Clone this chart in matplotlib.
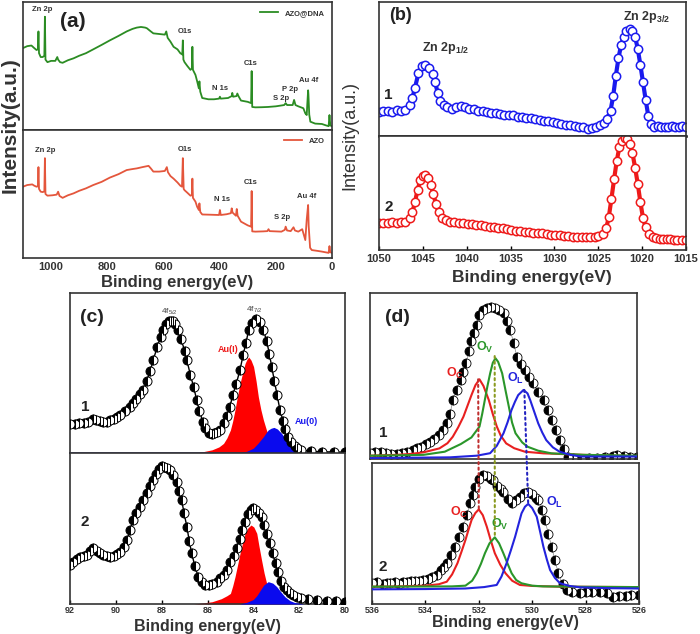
import numpy as np
import matplotlib.pyplot as plt
from matplotlib.patches import ConnectionPatch

plt.rcParams['font.family'] = ['Liberation Sans', 'DejaVu Sans']
plt.rcParams['mathtext.fontset'] = 'custom'
plt.rcParams['mathtext.rm'] = 'Liberation Sans'
plt.rcParams['mathtext.bf'] = 'Liberation Sans:bold'

# ---- (a) survey spectra: (binding energy eV, intensity a.u.) ----
survey_dna = [(1100, 64), (1085, 65.5), (1070, 66), (1060, 64), (1052, 62.5), (1047, 63), (1045, 77),
              (1043, 60), (1037, 57), (1030, 57), (1024, 58), (1022, 88.5), (1020, 55), (1013, 53),
              (1000, 54), (985, 54), (978, 57), (975, 55), (968, 53), (959, 52.5), (940, 54.5), (920, 56),
              (900, 58), (876, 60), (850, 63), (820, 66.5), (791, 70), (760, 73.5), (731, 77), (710, 79),
              (695, 80), (680, 80.5), (665, 80), (659, 79.5), (645, 77), (636, 75.5), (615, 75), (595, 74.5),
              (590, 77), (585, 72), (575, 69), (564, 65), (550, 63), (540, 60), (533, 59), (531, 70),
              (529, 55), (525, 53), (515, 50), (504, 47), (499, 48), (497, 65), (495, 47), (486, 43),
              (480, 38), (474, 32.5), (472, 38), (469, 30), (462, 25), (440, 24), (420, 24), (402, 24.5),
              (399, 26), (396, 24.5), (370, 25), (357, 26.5), (355, 29), (352, 26), (340, 26.5), (337, 28.5),
              (333, 26.5), (324, 23), (300, 22), (288, 21), (286, 46), (284, 18), (273, 17.7), (250, 17.8),
              (228, 18), (200, 18.5), (170, 19.5), (165, 21), (160, 19.5), (140, 19.5), (135, 23.5),
              (130, 19.5), (120, 18.5), (102, 17), (95, 13), (90, 11.7), (88, 20), (85, 31), (84, 28),
              (81, 12), (77, 6.5), (60, 5), (36, 4.7), (20, 3.5), (12, 3), (9, 11.7), (6, 3.5), (0, 3)]

survey_azo = [(1100, 55.7), (1085, 57), (1067, 57.5), (1060, 56.5), (1052, 55.7), (1047, 56), (1045, 71),
              (1043, 54), (1037, 51.8), (1030, 51.5), (1024, 52), (1022, 78), (1020, 50), (1013, 48.7),
              (995, 49), (980, 49.5), (975, 51.8), (970, 48.5), (959, 47), (940, 49), (920, 50.5),
              (900, 52.5), (876, 54.4), (850, 57), (820, 59.5), (791, 62.8), (760, 65.5), (731, 68.7),
              (710, 69.5), (695, 70), (675, 71), (653, 72), (645, 70), (636, 67.5), (615, 67.5), (595, 68),
              (588, 71), (584, 67), (575, 64), (564, 62), (550, 59), (540, 56.5), (534, 55.7), (531, 78),
              (528, 54), (525, 53), (515, 51), (504, 48.7), (499, 49), (497, 62), (495, 47), (486, 44),
              (480, 40), (474, 37.5), (472, 42.7), (469, 36), (462, 34), (430, 33.8), (402, 33.6),
              (399, 37.5), (396, 33.6), (375, 34.2), (360, 35), (357, 38.8), (354, 35.5), (342, 33),
              (339, 38.3), (336, 33), (324, 28.4), (300, 25.5), (288, 24.5), (286, 52.3), (284, 20.8),
              (273, 20.6), (245, 20.8), (230, 21), (226, 22.5), (222, 21), (180, 20.6), (168, 22),
              (165, 24.5), (160, 21.5), (147, 21), (137, 24), (132, 21.5), (120, 20.6), (106, 22.5),
              (95, 14), (90, 30), (85, 41.4), (83, 25), (78, 8), (72, 6.2), (50, 5.5), (36, 5), (12, 4),
              (9, 9.3), (6, 4.5), (0, 4)]

# ---- (b) Zn 2p ----
zn_1 = [(1050, 18), (1049.5, 19), (1049, 18.5), (1048.5, 18), (1048, 19.5), (1047.5, 19), (1047, 19.5),
        (1046.5, 23), (1046.2, 28), (1045.9, 36), (1045.5, 47), (1045.1, 52), (1044.7, 53), (1044.3, 51),
        (1043.9, 46), (1043.6, 40), (1043.3, 32), (1043.0, 26), (1042.6, 23), (1042.2, 21.5), (1041.7, 20.5),
        (1041.2, 21.5), (1040.7, 22.5), (1040.2, 21.5), (1039.7, 20.5), (1039.2, 20), (1038.7, 19),
        (1038.2, 18.5), (1037.7, 18), (1037.2, 17.5), (1036.7, 17), (1036.2, 16.5), (1035.7, 16),
        (1035.2, 15.5), (1034.7, 15.5), (1034.2, 14.5), (1033.7, 14), (1033.2, 13.5), (1032.7, 13.5),
        (1032.2, 12.5), (1031.7, 12), (1031.2, 11.5), (1030.7, 11), (1030.2, 10.5), (1029.7, 10),
        (1029.2, 9), (1028.7, 8.5), (1028.2, 8), (1027.7, 7.5), (1027.2, 7), (1026.7, 6.5), (1026.2, 5.5),
        (1025.7, 6), (1025.3, 6.5), (1024.8, 8), (1024.4, 10), (1024.0, 13), (1023.6, 19), (1023.3, 30),
        (1023.0, 45), (1022.7, 58), (1022.4, 68), (1022.1, 74), (1021.8, 78), (1021.4, 79.6), (1021.1, 78),
        (1020.8, 74), (1020.5, 65), (1020.2, 53), (1019.9, 40), (1019.6, 27), (1019.3, 15), (1019.0, 9),
        (1018.6, 7), (1018.2, 7.5), (1017.8, 6.5), (1017.4, 7), (1017.0, 6.5), (1016.6, 7.5), (1016.2, 6.5),
        (1015.8, 7), (1015.4, 7.5), (1015.0, 7)]

zn_2 = [(1050, 23.4), (1049.5, 24), (1049, 23.5), (1048.5, 24.5), (1048, 24), (1047.5, 24.5), (1047, 25),
        (1046.5, 28), (1046.2, 33), (1045.9, 42), (1045.6, 53), (1045.3, 61), (1045.0, 65), (1044.7, 65.8),
        (1044.4, 63), (1044.1, 57), (1043.8, 49), (1043.5, 40), (1043.2, 33), (1042.8, 28), (1042.4, 26),
        (1041.9, 25), (1041.4, 24.5), (1040.9, 24), (1040.4, 23.5), (1039.9, 23), (1039.4, 22.5),
        (1038.9, 22), (1038.4, 21.5), (1037.9, 21), (1037.4, 20.5), (1036.9, 20), (1036.4, 19.5),
        (1035.9, 19), (1035.4, 18.5), (1034.9, 17.5), (1034.4, 17), (1033.9, 16.5), (1033.4, 16),
        (1032.9, 15.5), (1032.4, 15), (1031.9, 14.5), (1031.4, 14.5), (1030.9, 14), (1030.4, 13.5),
        (1029.9, 13), (1029.4, 13), (1028.9, 12.5), (1028.4, 12), (1027.9, 11.5), (1027.4, 11.5),
        (1026.9, 11), (1026.4, 11), (1025.9, 11), (1025.4, 11.5), (1025.0, 12), (1024.5, 14), (1024.1, 19),
        (1023.8, 29), (1023.5, 45), (1023.2, 62), (1022.9, 78), (1022.6, 90), (1022.3, 96), (1022.0, 98),
        (1021.7, 97), (1021.4, 93), (1021.1, 85), (1020.8, 72), (1020.5, 58), (1020.2, 42), (1019.9, 28),
        (1019.6, 20), (1019.2, 14), (1018.8, 11.5), (1018.4, 10.5), (1018.0, 10), (1017.6, 10),
        (1017.2, 9.5), (1016.8, 9.5), (1016.4, 9), (1016.0, 9), (1015.5, 9), (1015.0, 8.8)]

# ---- (c) Au 4f ----
au_1 = [(92.0, 18), (91.8, 18.3), (91.6, 18.5), (91.4, 18.6), (91.2, 19.5), (91.0, 21), (90.85, 20.5),
        (90.7, 19.8), (90.55, 19.4), (90.4, 19.6), (90.25, 20.5), (90.1, 21.5), (89.96, 22.3), (89.8, 24),
        (89.6, 26.5), (89.4, 29), (89.24, 31), (89.1, 34), (88.95, 37), (88.8, 39.4), (88.65, 45), (88.5, 51),
        (88.37, 58), (88.2, 66), (88.05, 72.5), (87.93, 77), (87.8, 80.5), (87.7, 82.3), (87.6, 82.7),
        (87.5, 82.3), (87.4, 80.5), (87.27, 77), (87.15, 71), (87.0, 64), (86.9, 58), (86.75, 49), (86.6, 41),
        (86.47, 33), (86.35, 26), (86.2, 19.5), (86.1, 15.4), (85.95, 12.8), (85.82, 11.7), (85.7, 12.2),
        (85.58, 13), (85.46, 14.4), (85.3, 18.5), (85.15, 23), (85.02, 29), (84.9, 36), (84.75, 43),
        (84.58, 52), (84.45, 61), (84.32, 69), (84.2, 77), (84.05, 81.5), (83.88, 84), (83.72, 82),
        (83.56, 77), (83.42, 70), (83.3, 62), (83.2, 54), (83.08, 45), (82.96, 36), (82.84, 27), (82.7, 20),
        (82.6, 15), (82.47, 10.2), (82.35, 7), (82.2, 4.5), (82.1, 3), (81.9, 2), (81.5, 1), (81.0, 0.8),
        (80.5, 0.6), (80.0, 0.5)]
au_1_au1 = [(86.6, 0), (86.2, 0.8), (85.8, 2), (85.5, 3.8), (85.3, 6), (85.15, 9.5), (85.0, 14.4), (84.9, 20),
            (84.8, 27), (84.7, 35), (84.58, 43.5), (84.47, 50), (84.36, 56), (84.28, 58.5), (84.2, 60),
            (84.1, 58), (83.99, 54), (83.88, 45), (83.78, 35), (83.67, 27), (83.56, 20.6), (83.42, 14),
            (83.27, 9), (83.12, 5.5), (82.98, 3), (82.8, 1.5), (82.5, 0.5), (82.0, 0)]
au_1_au0 = [(84.6, 0), (84.3, 1), (84.0, 3), (83.8, 6), (83.56, 10.2), (83.45, 12.5), (83.35, 14.4),
            (83.22, 15.5), (83.1, 16), (82.95, 15), (82.77, 12.3), (82.6, 9), (82.4, 6), (82.25, 3.8),
            (82.1, 2), (81.8, 0.7), (81.5, 0)]

au_2 = [(92.0, 25.8), (91.85, 28), (91.7, 30), (91.55, 31), (91.4, 32), (91.27, 32.5), (91.12, 35),
        (90.98, 37), (90.84, 35), (90.69, 33.6), (90.55, 32.5), (90.4, 31.5), (90.25, 31.3), (90.1, 32),
        (89.95, 33), (89.8, 34.6), (89.65, 38), (89.5, 42.4), (89.37, 49), (89.24, 55.6), (89.1, 60),
        (88.95, 64.4), (88.8, 69), (88.65, 73.3), (88.5, 78), (88.37, 82), (88.25, 86), (88.12, 89.5),
        (88.0, 91.6), (87.88, 91), (87.76, 90), (87.64, 88.7), (87.5, 85.5), (87.35, 81), (87.24, 75),
        (87.13, 68.9), (87.02, 60), (86.9, 51.2), (86.8, 42), (86.69, 33.6), (86.55, 25), (86.4, 18),
        (86.25, 14.5), (86.1, 12.8), (85.95, 12.6), (85.8, 13.2), (85.6, 14.8), (85.45, 17), (85.3, 19.5),
        (85.16, 22.5), (85.0, 27.5), (84.86, 32), (84.73, 36.9), (84.6, 43), (84.48, 49), (84.36, 54.5),
        (84.22, 59.5), (84.1, 62.5), (84.0, 63.4), (83.88, 62.5), (83.76, 60.5), (83.64, 57.8), (83.52, 52),
        (83.4, 46.5), (83.27, 40.2), (83.15, 33.5), (83.03, 27), (82.91, 21.4), (82.78, 15), (82.65, 11.5),
        (82.55, 9.3), (82.4, 7), (82.25, 5.8), (82.1, 4.8), (81.9, 4.2), (81.6, 3.5), (81.2, 2.6), (80.8, 2.2),
        (80.4, 1.7), (80.0, 1.3)]
au_2_au1 = [(86.6, 0), (86.2, 0.7), (85.8, 1.5), (85.4, 3.5), (85.15, 5.5), (85.0, 7), (84.9, 12), (84.8, 18),
            (84.7, 25), (84.58, 33.6), (84.47, 40.5), (84.36, 46.8), (84.23, 50.5), (84.1, 52.3), (83.98, 51),
            (83.85, 46.8), (83.75, 38), (83.64, 29), (83.53, 20.5), (83.42, 13.7), (83.28, 8), (83.13, 3.8),
            (82.9, 1.5), (82.5, 0.3), (82.2, 0)]
au_2_au0 = [(84.6, 0), (84.3, 1), (84.0, 3), (83.85, 5.5), (83.7, 9), (83.55, 12.5), (83.35, 14.8),
            (83.15, 13.8), (82.98, 11.5), (82.8, 8), (82.62, 4.8), (82.4, 2.2), (82.2, 1), (81.8, 0)]

# ---- (d) O 1s ----
o_1 = [(536.0, 3.4), (535.8, 4), (535.6, 4.4), (535.4, 3.8), (535.2, 3.2), (535.0, 3), (534.8, 3.5),
       (534.6, 4.2), (534.4, 5.2), (534.25, 6.4), (534.1, 7.5), (533.9, 9), (533.75, 10.4), (533.6, 12),
       (533.4, 14.5), (533.25, 17.5), (533.1, 21.5), (533.0, 27), (532.9, 35.5), (532.75, 41.5), (532.6, 47.6),
       (532.5, 52.5), (532.4, 57.6), (532.3, 65), (532.2, 71), (532.1, 75.7), (532.0, 81), (531.9, 86.7),
       (531.75, 89.5), (531.6, 91), (531.45, 91.7), (531.3, 91.2), (531.15, 90), (531.0, 87.8), (530.88, 83),
       (530.75, 77.7), (530.62, 70), (530.5, 61.6), (530.35, 57), (530.2, 53.6), (530.05, 49.5), (529.9, 45.6),
       (529.7, 40.5), (529.5, 35.5), (529.35, 29.5), (529.2, 23.5), (529.05, 17.5), (528.9, 11.4), (528.75, 6),
       (528.6, 1.4), (528.4, 0.5), (528.1, 0), (527.8, 0.4), (527.5, 0.8), (527.2, 1.2), (526.9, 1.6),
       (526.75, 2.5), (526.5, 1.6), (526.25, 1.5), (526.0, 1.5)]
o_1_oc = [(536, 2), (535, 2.5), (534.5, 3), (534, 4), (533.4, 6.4), (533.1, 9.5), (532.9, 13.4), (532.7, 19),
          (532.5, 25.5), (532.35, 32), (532.2, 38.5), (532.05, 44.5), (531.9, 48), (531.75, 44), (531.55, 35.5),
          (531.4, 27), (531.25, 19.5), (531.1, 14), (530.9, 9.4), (530.6, 6.5), (530.2, 4.4), (529.5, 3.4),
          (528, 2.5), (527, 2), (526, 1.8)]
o_1_ov = [(536, 2), (535, 2.2), (534, 2.5), (533.2, 4.4), (532.6, 9), (532.2, 13), (531.9, 19.5), (531.8, 27),
          (531.7, 35.5), (531.6, 44), (531.5, 51.6), (531.4, 58), (531.3, 60.7), (531.2, 58.5), (531.05, 51.6),
          (530.92, 41), (530.8, 31.5), (530.68, 22), (530.55, 15.5), (530.3, 10), (530.1, 7.4), (529.7, 5),
          (529.2, 3.4), (528, 2.5), (526, 2)]
o_1_ol = [(536, 0.5), (535, 0.7), (533, 1), (532, 2), (531.5, 3.5), (531.25, 8), (531.0, 15.5), (530.85, 22),
          (530.7, 29.5), (530.57, 34.5), (530.45, 38.5), (530.25, 41.6), (530.1, 39.5), (530.0, 35.5),
          (529.85, 28.5), (529.7, 21.5), (529.55, 16), (529.4, 11.4), (529.15, 7), (528.9, 4.4), (528.5, 2.5),
          (528.1, 1.5), (527, 1.5), (526, 1.5)]

o_2 = [(536.0, 14.7), (535.8, 15.5), (535.6, 14.5), (535.45, 15), (535.33, 14.7), (535.15, 15.8), (535.0, 14.5),
       (534.85, 15.5), (534.7, 15.8), (534.55, 16), (534.4, 16.5), (534.25, 16.2), (534.08, 17), (533.9, 18),
       (533.75, 19), (533.58, 20.6), (533.4, 24), (533.3, 26), (533.2, 28.9), (533.05, 34.5), (532.9, 40.7),
       (532.75, 47.5), (532.58, 54.8), (532.45, 63), (532.33, 71.4), (532.23, 77.5), (532.14, 83.2),
       (532.0, 88.5), (531.83, 91.5), (531.68, 90.5), (531.55, 89), (531.46, 87.9), (531.3, 84), (531.18, 81.5),
       (531.08, 79.6), (530.92, 74.5), (530.77, 71.4), (530.62, 73.5), (530.46, 76), (530.3, 78.5),
       (530.15, 79.6), (530.0, 78), (529.87, 75.5), (529.77, 73.8), (529.65, 67), (529.52, 59.6), (529.4, 50),
       (529.27, 40.6), (529.15, 31), (529.02, 21.8), (528.86, 14), (528.7, 9.9), (528.5, 8.5), (528.2, 7.6),
       (528.0, 8.2), (527.75, 8.5), (527.46, 8.7), (527.2, 7.5), (526.96, 5.2), (526.75, 5.5), (526.5, 6),
       (526.3, 6.4), (526.0, 6.4)]
o_2_oc = [(536, 12.3), (535, 12.5), (534, 13), (533.5, 14), (533.2, 15.8), (533.0, 21), (532.8, 28.9),
          (532.65, 37), (532.5, 45.4), (532.38, 53), (532.27, 59.6), (532.13, 64.5), (532.0, 67.1), (531.85, 63),
          (531.7, 54.8), (531.55, 45), (531.4, 36), (531.2, 28), (531.0, 21.8), (530.75, 16.5), (530.46, 13.5),
          (530, 12.8), (529, 12.3), (528, 12.2), (526, 12)]
o_2_ov = [(536, 12.3), (534, 12.4), (533, 12.5), (532.5, 13), (532.25, 16.5), (532.08, 21.8), (531.92, 28.5),
          (531.77, 36), (531.6, 43), (531.4, 47.3), (531.24, 43), (531.08, 36), (530.92, 28.5), (530.77, 21.8),
          (530.6, 17), (530.4, 14.7), (530.0, 13), (529.6, 12.5), (528, 12.2), (526, 12)]
o_2_ol = [(536, 10.4), (534, 10.6), (532.5, 11), (531.8, 12), (531.33, 13.5), (531.15, 19.5), (530.96, 28.9),
          (530.8, 38), (530.64, 47.7), (530.52, 56), (530.4, 64.3), (530.27, 69), (530.15, 71), (530.0, 68),
          (529.83, 61.9), (529.7, 51), (529.58, 40.6), (529.45, 31.5), (529.33, 24.1), (529.15, 18.5),
          (528.96, 14.7), (528.6, 12.8), (528.2, 11.8), (527, 11.2), (526, 11)]

survey_ticks = [1000, 800, 600, 400, 200, 0]
zn_ticks = [1050, 1045, 1040, 1035, 1030, 1025, 1020, 1015]
au_ticks = [92, 90, 88, 86, 84, 82, 80]
o_ticks = [536, 534, 532, 530, 528, 526]


def xy(pts):
    a = np.array(pts, dtype=float)
    return a[:, 0], a[:, 1]


W, H = 700, 634
fig = plt.figure(figsize=(7, 6.34), dpi=100)


def box(x0, y0, x1, y1):
    # axes placed by pixel corners (top-left origin)
    return fig.add_axes([x0 / W, 1 - y1 / H, (x1 - x0) / W, (y1 - y0) / H])


def ptext(x, y, s, **kw):
    fig.text(x / W, 1 - y / H, s, **kw)


def style(ax, xlim, ticks=None, size=7.5, pad=3):
    ax.set_xlim(xlim)
    ax.set_ylim(0, 100)
    ax.set_yticks([])
    for sp in ax.spines.values():
        sp.set_linewidth(1.2)
        sp.set_color('#333333')
    if ticks is None:
        ax.set_xticks([])
    else:
        ax.set_xticks(ticks)
        ax.tick_params(axis='x', direction='in', length=3, width=1, labelsize=size, pad=pad)
        for lb in ax.get_xticklabels():
            lb.set_fontweight('bold')
            lb.set_color('#333333')


# ================= (a) =================
green = '#2b8c23'
orange = '#e4563c'
a1 = box(23, 2, 332, 130)
a2 = box(23, 130, 332, 258)
x, y = xy(survey_dna)
a1.plot(x, y, color=green, lw=1.3, label='AZO@DNA')
x, y = xy(survey_azo)
a2.plot(x, y, color=orange, lw=1.3, label='AZO')
style(a1, (1100, 0))
style(a2, (1100, 0), survey_ticks, 8)
a2.tick_params(axis='x', length=0)
for ax in (a1, a2):
    ax.legend(loc='upper right', frameon=False, prop={'size': 5.5, 'weight': 'bold'},
              handlelength=2.4, borderaxespad=0.6, labelcolor='#333333')

lab = dict(fontsize=5.5, fontweight='bold', color='#333333', ha='center', va='center')
a1.text(1032, 93.8, 'Zn 2p', **lab)
a1.text(525, 76.6, 'O1s', **lab)
a1.text(290, 52.3, 'C1s', **lab)
a1.text(399, 32.8, 'N 1s', **lab)
a1.text(180, 25, 'S 2p', **lab)
a1.text(148, 32, 'P 2p', **lab)
a1.text(82, 39, 'Au 4f', **lab)
a2.text(1022, 83.6, 'Zn 2p', **lab)
a2.text(523, 84.4, 'O1s', **lab)
a2.text(290, 58.6, 'C1s', **lab)
a2.text(390, 46, 'N 1s', **lab)
a2.text(176, 31.3, 'S 2p', **lab)
a2.text(89, 47.7, 'Au 4f', **lab)
a1.text(967, 84.4, '(a)', fontsize=15, fontweight='bold', color='#222222', va='center')
ptext(10, 125, 'Intensity(a.u.)', fontsize=15, fontweight='bold', rotation=90,
      ha='center', va='center', color='#333333')
ptext(177, 283, 'Binding energy(eV)', fontsize=12, fontweight='bold', ha='center', va='center', color='#333333')

# ================= (b) =================
blue = '#1a1aee'
red = '#ee1a1a'
b1 = box(379, 2, 686, 136)
b2 = box(379, 136, 686, 250)
x, y = xy(zn_1)
b1.plot(x, y, color=blue, lw=3, marker='o', ms=6, mfc='white', mec=blue, mew=1.1)
x, y = xy(zn_2)
b2.plot(x, y, color=red, lw=3, marker='o', ms=6, mfc='white', mec=red, mew=1.1)
style(b1, (1050, 1015))
style(b2, (1050, 1015), zn_ticks, 8)
b1.spines['bottom'].set_linewidth(1.8)
b1.spines['bottom'].set_color('black')
b1.text(1048.8, 90, '(b)', fontsize=13, fontweight='bold', color='#222222', va='center')
b1.text(1042.4, 66, r'Zn 2p$_\mathbf{1/2}$', fontsize=9, fontweight='bold', ha='center', va='center',
        color='#333333')
b1.text(1019.5, 89, r'Zn 2p$_\mathbf{3/2}$', fontsize=9, fontweight='bold', ha='center', va='center',
        color='#333333')
b1.text(1049, 30.6, '1', fontsize=11, fontweight='bold', ha='center', va='center', color='#222222')
b2.text(1048.9, 37.7, '2', fontsize=11, fontweight='bold', ha='center', va='center', color='#222222')
ptext(350, 135, 'Intensity(a.u.)', fontsize=13, rotation=90, ha='center', va='center', color='#333333')
ptext(532, 278, 'Binding energy(eV)', fontsize=12.5, fontweight='bold', ha='center', va='center', color='#333333')

# ================= (c) =================
c1 = box(70, 293, 345, 453)
c2 = box(70, 453, 345, 604)
mk = dict(color='black', lw=1, marker='o', ms=6.5, fillstyle='left', mfc='black', mfcalt='white',
          mec='black', mew=0.7)
for ax, exp, f1, f0 in ((c1, au_1, au_1_au1, au_1_au0), (c2, au_2, au_2_au1, au_2_au0)):
    x, y = xy(f1)
    ax.fill_between(x, 0, y, color='#ff0000', lw=0, zorder=2)
    x, y = xy(f0)
    ax.fill_between(x, 0, y, color='#0a0aee', lw=0, zorder=3)
    x, y = xy(exp)
    ax.plot(x, y, zorder=4, **mk)
style(c1, (92, 80))
style(c2, (92, 80), au_ticks, 6.5, pad=1.5)
c1.spines['bottom'].set_color('#3a3a8a')
c1.text(91.56, 84.4, '(c)', fontsize=14, fontweight='bold', color='#222222', va='center')
c1.text(87.64, 88, r'4f$_\mathregular{5/2}$', fontsize=6, color='#444444', ha='center', va='center')
c1.text(83.93, 89.4, r'4f$_\mathregular{7/2}$', fontsize=6, color='#444444', ha='center', va='center')
c1.text(85.1, 64.4, 'Au(I)', fontsize=6.5, fontweight='bold', color='#ee1a1a', ha='center', va='center')
c1.text(81.7, 19.4, 'Au(0)', fontsize=6.5, fontweight='bold', color='#1a1aee', ha='center', va='center')
c1.text(91.35, 28.8, '1', fontsize=11, fontweight='bold', ha='center', va='center', color='#222222')
c2.text(91.35, 54.3, '2', fontsize=11, fontweight='bold', ha='center', va='center', color='#222222')
ptext(207, 626, 'Binding energy(eV)', fontsize=11.5, fontweight='bold', ha='center', va='center', color='#333333')

# ================= (d) =================
d1 = box(370, 293, 637, 459)
d2 = box(372, 463, 639, 604)
cr, cg, cb = '#e82020', '#2a962a', '#2323dd'
mk_d = dict(color='#888888', lw=0.5, marker='o', ms=6.5, fillstyle='left', mfc='black', mfcalt='white',
            mec='black', mew=0.6)
for ax, exp, oc, ov, ol in ((d1, o_1, o_1_oc, o_1_ov, o_1_ol), (d2, o_2, o_2_oc, o_2_ov, o_2_ol)):
    x, y = xy(exp)
    ax.plot(x, y, zorder=2, **mk_d)
    for pts, c in ((oc, cr), (ov, cg), (ol, cb)):
        x, y = xy(pts)
        ax.plot(x, y, color=c, lw=1.5, zorder=3)
style(d1, (536, 526))
style(d2, (536, 526), o_ticks, 6.5, pad=1.5)

ot = dict(fontsize=9, fontweight='bold', ha='center', va='center')
d1.text(535.44, 85.5, '(d)', fontsize=14, fontweight='bold', color='#222222', va='center')
d1.text(535.5, 15.7, '1', fontsize=11, fontweight='bold', ha='center', va='center', color='#222222')
d2.text(535.6, 26.2, '2', fontsize=11, fontweight='bold', ha='center', va='center', color='#222222')
d1.text(532.8, 51.8, r'O$_\mathbf{C}$', color=cr, **ot)
d1.text(531.7, 66.9, r'O$_\mathbf{V}$', color=cg, **ot)
d1.text(530.55, 48.8, r'O$_\mathbf{L}$', color=cb, **ot)
d2.text(532.75, 65.2, r'O$_\mathbf{C}$', color=cr, **ot)
d2.text(531.2, 56.7, r'O$_\mathbf{V}$', color=cg, **ot)
d2.text(529.15, 72.3, r'O$_\mathbf{L}$', color=cb, **ot)

# dotted guides joining peak positions of both spectra
for e_top, v_top, e_bot, v_bot, c in ((531.95, 48, 532.0, 67.1, '#c03030'),
                                      (531.33, 62, 531.4, 47.3, '#8a9a20'),
                                      (530.22, 41.6, 530.15, 71, '#2323c0')):
    con = ConnectionPatch(xyA=(e_top, v_top), coordsA=d1.transData, xyB=(e_bot, v_bot), coordsB=d2.transData,
                          color=c, ls=':', lw=1.5, zorder=5)
    fig.add_artist(con)
ptext(505, 623, 'Binding energy(eV)', fontsize=11.5, fontweight='bold', ha='center', va='center', color='#333333')

fig.savefig('out.png', dpi=100)
